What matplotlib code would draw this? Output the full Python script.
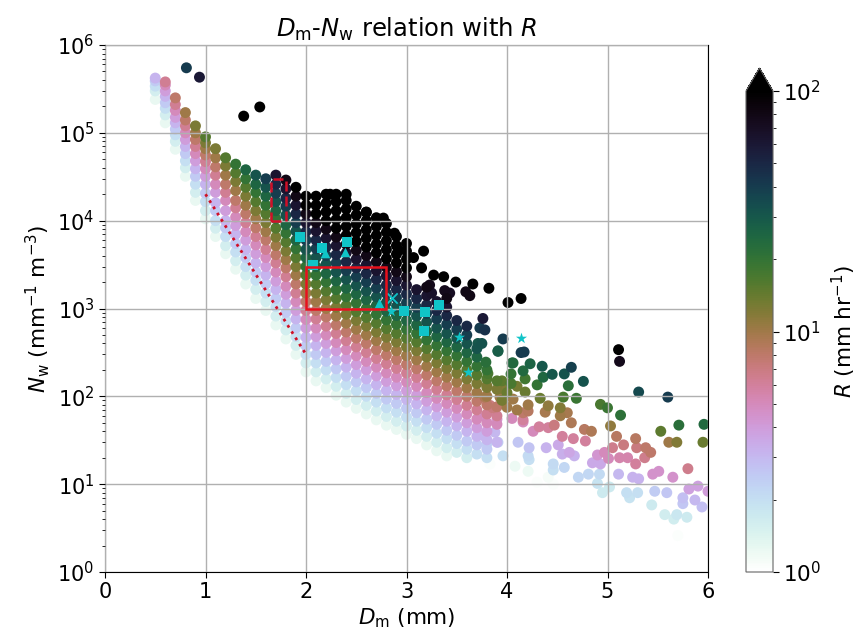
import numpy as np
import matplotlib
matplotlib.use('Agg')
import matplotlib.pyplot as plt
from matplotlib.colors import LogNorm
from matplotlib.patches import Rectangle

# rain-rate levels used by the dense part of the cloud (column entries map to these in order)
R_levels = [1, 1.26, 1.58, 2, 2.51, 3.16, 3.98, 5.01, 6.31, 7.94, 10, 12.6, 15.8, 20, 25.1,
            31.6, 39.8, 50.1, 63.1, 79.4, 100, 126, 158, 200, 251, 316]
nan = float('nan')
column_dm = [0.5, 0.6, 0.7, 0.8, 0.9, 1.0, 1.1, 1.2, 1.3, 1.4, 1.5, 1.6, 1.7, 1.8, 1.9, 2.0, 2.1, 2.2, 2.3,
             2.4, 2.5, 2.6, 2.7, 2.8, 2.9, 3.0, 3.1, 3.2, 3.3, 3.4, 3.5, 3.6, 3.7, 3.8, 3.9]
column_nw = [
    [1.9e5, 2.4e5, 3e5, 3.4e5, 3.9e5, 4.2e5],
    [1.1e5, 1.3e5, 1.6e5, 1.9e5, 2.2e5, 2.6e5, 3e5, 3.5e5, 3.8e5],
    [5.5e4, 6.5e4, 8e4, 9.5e4, 1.1e5, 1.3e5, 1.5e5, 1.8e5, 2.1e5, 2.5e5],
    [2.6e4, 3.2e4, 4e4, 4.8e4, 5.8e4, 7e4, 8.4e4, 1e5, 1.2e5, 1.4e5, 1.7e5],
    [1.4e4, 1.7e4, 2.1e4, 2.6e4, 3.2e4, 3.9e4, 4.8e4, 5.8e4, 7e4, 8.4e4, 1e5, 1.2e5],
    [8.5e3, 1.05e4, 1.3e4, 1.65e4, 2.05e4, 2.6e4, 3.2e4, 3.9e4, 4.7e4, 5.6e4, 6.6e4, 7.7e4, 9e4],
    [5.2e3, 6.6e3, 8.2e3, 1e4, 1.3e4, 1.6e4, 2.1e4, 2.6e4, 3.3e4, 4.1e4, 5.2e4, 6.6e4],
    [3.3e3, 4.2e3, 5.2e3, 6.6e3, 8.3e3, 1e4, 1.3e4, 1.7e4, 2.1e4, 2.6e4, 3.3e4, 4.2e4, 5.2e4],
    [2.2e3, 2.8e3, 3.5e3, 4.4e3, 5.5e3, 7e3, 8.8e3, 1.1e4, 1.4e4, 1.7e4, 2.2e4, 2.8e4, 3.5e4, 4.4e4],
    [1.5e3, 1.9e3, 2.4e3, 3e3, 3.8e3, 4.7e3, 6e3, 7.5e3, 9.5e3, 1.2e4, 1.5e4, 1.9e4, 2.4e4, 3e4, 3.8e4],
    [1050, 1300, 1650, 2100, 2600, 3300, 4200, 5300, 6600, 8300, 1.05e4, 1.3e4, 1.65e4, 2.1e4, 2.6e4, 3.3e4],
    [750, 950, 1200, 1500, 1900, 2400, 3000, 3800, 4700, 6000, 7500, 9500, 1.2e4, 1.5e4, 1.9e4, 2.4e4, 3e4],
    [520, 650, 820, 1050, 1300, 1650, 2050, 2600, 3300, 4100, 5200, 6500, 8200, 1.05e4, 1.3e4, 1.65e4, 2.05e4, 2.6e4, 3.3e4],
    [360, 450, 570, 720, 900, 1150, 1450, 1800, 2300, 2900, 3600, 4500, 5700, 7200, 9000, 1.15e4, 1.45e4, 1.8e4, 2.3e4, 2.9e4],
    [240, 300, 380, 480, 600, 760, 950, 1200, 1500, 1900, 2400, 3000, 3800, 4800, 6000, 7600, 9500, 1.2e4, 1.5e4, 1.9e4, 2.4e4],
    [150, 190, 240, 300, 375, 470, 600, 750, 950, 1200, 1500, 1900, 2400, 3000, 3800, 4700, 6000, 7500, 9500, 1.2e4, 1.5e4, 1.9e4],
    [120, 150, 190, 240, 300, 380, 480, 600, 760, 950, 1200, 1500, 1900, 2400, 3000, 3800, 4800, 6000, 7600, 9500, 1.2e4, 1.5e4, 1.9e4],
    [100, 126, 158, 200, 250, 316, 400, 500, 630, 800, 1000, 1260, 1580, 2000, 2500, 3200, 4000, 5000, 6300, 8000, 1e4, 1.26e4, 1.58e4, 2e4],
    [82, 103, 130, 164, 206, 260, 330, 410, 520, 650, 820, 1030, 1300, 1640, 2060, 2600, 3300, 4100, 5200, 6500, 8200, 1.03e4, 1.3e4, 1.64e4, 2e4],
    [68, 86, 108, 136, 170, 215, 270, 340, 430, 540, 680, 860, 1080, 1360, 1700, 2150, 2700, 3400, 4300, 5400, 6800, 8600, 1.08e4, 1.36e4, 1.7e4, 2e4],
    [58, 73, 92, 116, 146, 183, 230, 290, 365, 460, 580, 730, 920, 1160, 1460, 1830, 2300, 2900, 3650, 4600, 5800, 7300, 9200, 1.16e4, 1.46e4],
    [50, 63, 79, 100, 126, 158, 200, 250, 316, 400, 500, 630, 790, 1000, 1260, 1580, 2000, 2500, 3160, 4000, 5000, 6300, 7900, 1e4, 1.25e4],
    [43, 54, 68, 86, 108, 136, 171, 215, 270, 340, 430, 540, 680, 860, 1080, 1360, 1710, 2150, 2700, 3400, 4300, 5400, 6800, 8600, 1.08e4],
    [37, 47, 59, 74, 93, 117, 148, 185, 235, 295, 370, 470, 590, 740, 930, 1170, 1480, 1850, 2350, 2950, 3700, 4700, 5900, 7400, 9300],
    [33, 42, 52, 66, 83, 105, 132, 165, 208, 262, 330, 415, 520, 660, 830, 1050, 1320, 1650, 2080, 2620, 3300, 4150, 5200, 6600],
    [29, 37, 46, 58, 73, 92, 116, 146, 184, 230, 290, 365, 460, 580, 730, 920, 1160, 1460, 1840, 2300, 2900, 3650, 4500, 5500],
    [26, 33, 41, 52, 65, 82, 103, 130, 164, 206, 260, 330, 415, 520, 650, 820, 1030, 1300, 1640],
    [22, 28, 35, 44, 55, 70, 88, 110, 140, 175, 220, 280, 350, 440, 550, 700, 880, 1100, 1400, 1750],
    [nan, 24, 30, 38, 48, 60, 76, 95, 120, 150, 190, 240, 300, 380, 480, 600, 760, 950, 1200],
    [nan, 21, 26, 33, 41, 52, 66, 83, 104, 131, 165, 208, 260, 330, 415, 520, 660, 830, 1040, 1300],
    [nan, nan, 23, 29, 36, 46, 58, 73, 92, 115, 145, 183, 230, 290, 365, 460, 580, 730],
    [nan, nan, 20, 25, 31, 40, 50, 63, 79, 100, 125, 158, 200, 250, 315, 400, 500, 630],
    [nan, nan, nan, 22, 28, 35, 44, 55, 70, 88, 110, 140, 175, 220, 280, 350],
    [nan, nan, nan, 20, 25, 32, 40, 50, 63, 80, 100, 126, 158, 200],
    [nan, nan, nan, nan, nan, 30, nan, 48, 60, 76, nan, 120, 150],
]

# individually read outer points
out_dm = [0.81, 0.94, 1.38, 1.54, 2.24, 2.6, 2.77, 2.88, 2.92, 3.17, 3.07, 3.15, 3.27, 3.37, 3.49, 3.66, 3.82, 4.01, 4.14,
          3.63, 3.59, 3.38, 3.43, 3.23, 3.25, 3.76, 3.96, 4.17, 3.78, 3.73, 3.71, 3.91, 4.06, 4.35,
          5.11, 5.12, 5.31, 5.60, 4.76, 4.64, 4.57, 4.45, 4.23, 4.16, 4.05, 4.61, 4.69, 4.56, 4.30, 4.36, 4.18, 4.04, 4.04,
          3.95, 3.81, 3.79, 3.91, 4.14, 3.75, 4.93, 5.00, 5.13, 5.03, 5.53, 5.71, 5.96, 5.95, 5.69, 5.61, 5.09, 5.28,
          5.05, 5.16, 5.29, 5.38, 5.43, 5.37, 5.28, 5.20, 5.12, 5.01, 4.97, 4.90, 4.93, 4.85, 5.80, 5.45, 5.51, 5.65,
          5.11, 5.25, 5.31, 5.90, 5.81, 6.00, 5.75, 5.87, 5.75, 5.94, 5.59, 5.47, 5.30, 5.19, 5.22, 5.44, 5.57, 5.69,
          5.66, 5.79, 5.70, 5.02, 4.95, 4.90, 4.92, 4.81, 4.71, 4.57, 4.46, 4.46, 4.67, 4.62, 4.55, 4.51, 4.39, 4.22,
          4.11, 4.21, 4.22, 3.83, 3.96, 4.08, 4.21, 4.41, 4.46, 4.66, 4.78, 4.93, 4.30, 4.78, 4.66, 4.55, 4.64, 4.77,
          4.84, 4.47, 4.32, 4.41, 4.16, 4.60, 4.53, 4.53, 4.41, 4.38, 4.33, 4.21, 4.16, 4.06, 4.18, 3.76, 3.88, 3.80,
          3.91, 4.05, 3.90, 3.78, 4.16, 4.26, 3.83, 3.86, 3.93, 3.95, 3.80, 3.78, 4.21, 4.00, 4.10, 3.95, 4.00, 4.10]
out_nw = [5.5e5, 4.3e5, 1.55e5, 1.97e5, 2e4, 1.25e4, 1.07e4, 7200, 4600, 4500, 3800, 2900, 2400, 2300, 2000, 1900, 1700, 1170, 1300,
          1400, 1550, 1600, 1500, 1850, 1500, 770, 450, 320, 570, 600, 400, 330, 240, 220,
          340, 250, 112, 98, 148, 214, 180, 178, 235, 195, 240, 132, 95, 98, 135, 165, 158, 180, 140,
          150, 182, 245, 325, 315, 400, 81, 74, 61, 46, 40, 47, 48, 30, 30, 30, 35, 33,
          26, 28, 26, 26, 23, 20, 17, 20, 20, 19.6, 23, 21.5, 17, 17.5, 15, 13, 14, 12,
          13, 12, 11.5, 9.5, 8.8, 8.3, 7, 6.6, 6, 5.5, 8, 8.3, 8, 8, 7, 5.8, 4.5, 4.5,
          4, 4.2, 2.6, 9.3, 8, 10.2, 13, 13, 12, 15.5, 17, 14.5, 21, 23, 22, 28, 26, 26,
          30, 21, 19, 17, 21, 16, 14, 12, 10, 7, 6, 5.2, 10.5, 31, 33, 35, 50, 42,
          40, 47, 45, 44, 54, 65, 74, 60, 78, 66, 95, 80, 65, 93, 112, 36, 39, 29,
          30, 56, 55, 59, 51, 40, 79, 74, 98, 123, 132, 98, 68, 75, 70, 90, 110, 130]
out_r = [40, 60, 150, 150, 150, 150, 150, 150, 150, 150, 150, 150, 100, 100, 130, 130, 130, 150, 150,
         80, 80, 75, 70, 75, 65, 60, 40, 40, 45, 40, 30, 28, 24, 30,
         110, 75, 35, 40, 32, 38, 32, 30, 26, 24, 24, 22, 19, 17, 20, 25, 18, 20, 17,
         15, 17, 22, 28, 40, 32, 17, 19, 21, 11, 15, 22, 24, 14, 12, 10, 8.5, 8.5,
         6.5, 7, 7, 8, 8, 6.5, 6, 5.5, 5.5, 5, 5, 4.3, 3.5, 3.5, 6.5, 4.5, 4.5, 4.5,
         3, 3.2, 3.2, 3.8, 3.8, 4, 2.8, 3, 2.6, 2.8, 2.6, 2.5, 2, 2, 1.9, 1.7, 1.6, 1.8,
         1.6, 1.7, 1.05, 1.7, 1.7, 1.9, 2.1, 2.2, 2.2, 2.2, 2.1, 2, 3.2, 3.6, 3.3, 3.5, 3.2, 2.7,
         2.6, 2.1, 2, 1.05, 2, 1.2, 1.2, 1.1, 1.05, 1, 1, 1, 1.05, 6, 6, 6, 9, 8.5,
         9, 7, 6, 6, 6, 9.5, 12, 10, 11, 9.5, 14, 10, 8, 10, 14, 3, 3, 2.4,
         2.4, 5, 4.5, 4.6, 5, 5, 7, 7, 10, 12, 12, 9, 8.5, 10, 10, 13, 14, 13]

square_dm = [1.94, 2.16, 2.41, 2.07, 2.98, 3.18, 3.32, 3.17]
square_nw = [6600, 4900, 5700, 3150, 930, 910, 1100, 550]
triangle_dm = [2.19, 2.39, 2.73]
triangle_nw = [4250, 4400, 1150]
cross_dm = [2.86]
cross_nw = [1320]
star_dm = [2.85, 3.52, 3.61, 4.14]
star_nw = [930, 470, 190, 460]

solid_box = [2.0, 2.8, 1000, 3000]
dashed_box = [1.65, 1.8, 1e4, 3e4]
dotted_dm = [1, 2]
dotted_nw = [2e4, 300]

x, y, c = [], [], []
for dm, col in zip(column_dm, column_nw):
    for r, nw in zip(R_levels, col):
        if nw == nw:
            x.append(dm); y.append(nw); c.append(r)
x += out_dm; y += out_nw; c += out_r
x, y, c = np.array(x), np.array(y), np.array(c)
order = np.argsort(c)

fig = plt.figure(figsize=(8.58, 6.38), dpi=100)
ax = fig.add_axes([105/858, 1-572/638, 603/858, 527/638])
norm = LogNorm(vmin=1, vmax=100)
cmap = plt.get_cmap('cubehelix_r')
sc = ax.scatter(x[order], y[order], c=c[order], s=62, cmap=cmap, norm=norm, linewidths=0, zorder=1.5)
ax.set_yscale('log')
ax.set_xlim(0, 6)
ax.set_ylim(1, 1e6)
ax.set_yticks([1, 10, 100, 1e3, 1e4, 1e5, 1e6])
ax.grid(True, color='#b0b0b0', linewidth=1.0)
ax.set_axisbelow(False)

cy = '#10c4c8'
ax.scatter(square_dm, square_nw, marker='s', s=48, color=cy, linewidths=0, zorder=4)
ax.scatter(triangle_dm, triangle_nw, marker='^', s=48, color=cy, linewidths=0, zorder=4)
ax.scatter(cross_dm, cross_nw, marker='x', s=55, color=cy, linewidths=1.3, zorder=4)
ax.scatter(star_dm, star_nw, marker='*', s=70, color=cy, linewidths=0, zorder=4)

ax.add_patch(Rectangle((solid_box[0], solid_box[2]), solid_box[1]-solid_box[0], solid_box[3]-solid_box[2],
                       fill=False, edgecolor='#e8101c', lw=1.8, zorder=5))
ax.add_patch(Rectangle((dashed_box[0], dashed_box[2]), dashed_box[1]-dashed_box[0], dashed_box[3]-dashed_box[2],
                       fill=False, edgecolor='#d01028', lw=1.8, ls=(0, (4, 2)), zorder=5))
ax.plot(dotted_dm, dotted_nw, ls=':', color='#d01028', lw=2, zorder=5)

ax.tick_params(axis='both', which='major', labelsize=15, length=4)
ax.set_title(r'$D_\mathrm{m}$-$N_\mathrm{w}$ relation with $R$', fontsize=17.5, pad=6)
ax.set_xlabel(r'$D_\mathrm{m}$ (mm)', fontsize=15.5, labelpad=3)
ax.set_ylabel(r'$N_\mathrm{w}$ (mm$^{-1}$ m$^{-3}$)', fontsize=15.5, labelpad=4)

cax = fig.add_axes([746/858, 1-572/638, 27/858, 504/638])
cb = fig.colorbar(sc, cax=cax, extend='max', extendfrac=0.048)
cb.ax.tick_params(labelsize=15.5, length=4)
cb.outline.set_edgecolor('#666666')
cb.set_label(r'$R$ (mm hr$^{-1}$)', fontsize=15.5, labelpad=6)
fig.savefig('out.png', dpi=100)
